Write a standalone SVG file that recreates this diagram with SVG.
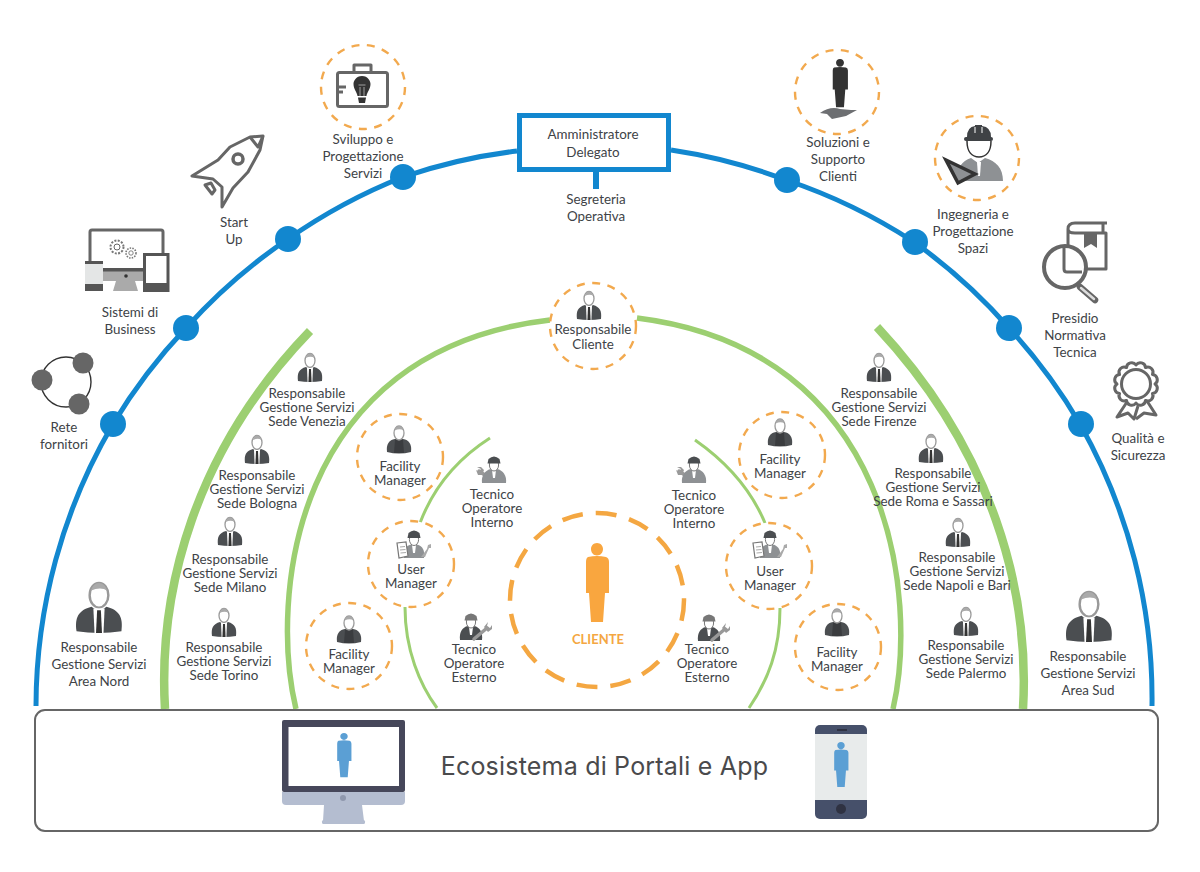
<svg xmlns="http://www.w3.org/2000/svg" width="1200" height="872" viewBox="0 0 1200 872">
<style>
text{font-family:Lato,"Open Sans","Liberation Sans",sans-serif;font-size:13.4px;fill:#404347;text-anchor:middle}
.big{font-size:13.4px}
.blue{fill:none;stroke:#1287cf;stroke-width:5}
.g1{fill:none;stroke:#9ccf71;stroke-width:8.5}
.g2{fill:none;stroke:#9ccf71;stroke-width:5.5}
.g3{fill:none;stroke:#9ccf71;stroke-width:3}
.dot{fill:#1287cf}
.ring{fill:#fff;stroke:#f2a94e;stroke-width:2.4;stroke-dasharray:8 7.5}
.ic{fill:none;stroke:#666;stroke-width:3;stroke-linejoin:round}
.dark{fill:#4b4e51}
.grey{fill:#8e9194}
.mid{fill:#666}
.wr{fill:none;stroke:#999;stroke-width:3.5;stroke-linecap:round}
</style>
<defs>
<path id="person" d="M-9 14 Q0 12 9 14 Q12 15 12 19 L12 50 L8 50 L6 79 L-6 79 L-8 50 L-11 50 L-11 19 Q-11 15 -9 14Z M0 0 C3.6 0 6 2.8 6 6 C6 9.6 3.6 12.5 0 12.5 C-3.6 12.5 -6 9.6 -6 6 C-6 2.8 -3.6 0 0 0Z"/>
<g id="boss">
<path d="M-12 28 C-13 20 -11 16 -4 14 L0 17 L4 14 C11 16 13 20 12 28 Q0 30 -12 28Z" class="dark"/>
<ellipse cx="0" cy="7.5" rx="5" ry="7" fill="#fff" stroke="#999" stroke-width="1.3"/>
<path d="M-4.5 5 Q-3 .5 0 .5 Q3 .5 4.5 5 Q1 2.5 -4.5 5Z" fill="#aaa"/>
<path d="M-3 15 L3 15 L2.4 29 L-2.4 29Z" fill="#fff"/>
<path d="M-1 16 L1 16 L1.6 29 L-1.6 29Z" fill="#333"/>
</g>
<g id="facility">
<path d="M-12 26 C-13 18 -10 14 -4 13 L4 13 C10 14 13 18 12 26 Q0 29 -12 26Z" class="dark"/>
<path d="M-4 14 L4 14 L5 27 L-5 27Z" fill="#3a3c3f"/>
<ellipse cx="0" cy="7" rx="5" ry="7" fill="#fff" stroke="#999" stroke-width="1.3"/>
<path d="M-4.5 4.5 Q-3 .2 0 .2 Q3 .2 4.5 4.5 Q1 2.2 -4.5 4.5Z" fill="#aaa"/>
</g>
<g id="tecInt">
<path class="wr" d="M-15 15 L-2 24"/>
<path d="M-18 14 L-15 16 L-13 13 L-17 11 L-13 11 L-10 14 L-12 19 L-16 19Z" fill="#999"/>
<path d="M-12 27 C-13 20 -9 14 -3 13 L3 13 C9 14 13 20 12 27Z" class="grey"/>
<path d="M-2 14 L2 14 L1 22 L-1 22Z" fill="#fff"/>
<ellipse cx="0" cy="9" rx="4.600" ry="6" fill="#fff" stroke="#777"/>
<path d="M-6.500 7.500 L-5.500 3 Q0 -2 5.500 3 L6.500 7.500Z" class="dark"/>
</g>
<g id="tecEst">
<path d="M-11 27 C-12 20 -9 14 -3 13 L3 13 C9 14 12 20 11 27Z" class="dark"/>
<path d="M-2 14 L2 14 L1 22 L-1 22Z" fill="#fff"/>
<ellipse cx="0" cy="9" rx="4.600" ry="6" fill="#fff" stroke="#777"/>
<path d="M-6.500 7.500 L-5.500 3 Q0 -2 5.500 3 L6.500 7.500Z" fill="#777"/>
<path class="wr" d="M3 26 L16 15"/>
<path d="M13 14 L17 9 L16 13 L19 15 L21 12 L21 16 L17 19 Z" fill="#999"/>
</g>
<g id="userMgr">
<path d="M-10 28 C-11 21 -9 16 -3 14.500 L3 14.500 C9 16 11 21 10 28Z" class="grey"/>
<path d="M-2 15 L2 15 L1 23 L-1 23Z" fill="#fff"/>
<ellipse cx="0" cy="9.500" rx="4.600" ry="6" fill="#fff" stroke="#777"/>
<path d="M-6.500 8 L-5.500 3 Q0 -2 5.500 3 L6.500 8Z" class="dark"/>
<path d="M-17 13 L-8 12 L-6 26 L-15 28Z" fill="#fff" stroke="#777" stroke-width="1.200"/>
<path d="M-14 17 L-9 16.500 M-14 20 L-8.500 19.500 M-13.500 23 L-8 22.500" stroke="#aaa" stroke-width="1.200"/>
<path d="M7 27 L11 27 L15 18 L17 18 L17 14 L14 15 L13 19Z" fill="#aaa"/>
</g>
</defs>

<g id="connectors">
<path class="blue" d="M36 706 A558 558 0 0 1 113 424 A558 558 0 0 1 186 328 A558 558 0 0 1 288 239 A558 558 0 0 1 403 177 A558 558 0 0 1 517 151"/>
<path class="blue" d="M671 150 A558 558 0 0 1 786 180 A558 558 0 0 1 914 242 A558 558 0 0 1 1009 328 A558 558 0 0 1 1080 424 A558 558 0 0 1 1152 706"/>
<path class="g1" d="M165 709 C158 590 195 450 310 331"/>
<path class="g1" d="M1023 709 C1030 590 992 450 877 327"/>
<path class="g2" d="M296 709 C270 600 290 350 550 320"/>
<path class="g2" d="M637 318 C895 350 918 600 893 709"/>
<path class="g3" d="M490 438 Q440 470 420 523"/>
<path class="g3" d="M405 607 C405 650 420 685 437 708"/>
<path class="g3" d="M695 440 Q745 475 765 523"/>
<path class="g3" d="M780 608 C780 650 768 680 749 708"/>
<path d="M596 172 V189" stroke="#1287cf" stroke-width="6" fill="none"/>
</g>

<g id="dots">
<circle class="dot" cx="113" cy="424" r="13"/><circle class="dot" cx="186" cy="328" r="13"/><circle class="dot" cx="288" cy="239" r="13"/><circle class="dot" cx="403" cy="177" r="13"/>
<circle class="dot" cx="787" cy="180" r="13"/><circle class="dot" cx="915" cy="242" r="13"/><circle class="dot" cx="1009" cy="328" r="13"/><circle class="dot" cx="1081" cy="424" r="13"/>
</g>

<g id="ad">
<rect x="519.500" y="115.500" width="149" height="54" fill="#fff" stroke="#1287cf" stroke-width="5"/>
<text x="593" y="139">Amministratore</text><text x="593" y="157">Delegato</text>
</g>
<g id="segreteria"><text x="596" y="204">Segreteria</text><text x="596" y="221">Operativa</text></g>

<g id="rete">
<circle cx="66" cy="382" r="25" fill="none" stroke="#333" stroke-width="1.400"/>
<circle class="mid" cx="83" cy="363" r="10.500"/><circle class="mid" cx="42" cy="380" r="10.500"/><circle class="mid" cx="79" cy="404" r="10.500"/>
<text x="64" y="432">Rete</text><text x="64" y="449">fornitori</text>
</g>

<g id="sistemi">
<path d="M90 270 V232 Q90 230 92 230 H161 Q163 230 163 232 V262" class="ic" stroke="#555"/>
<circle cx="117" cy="247" r="6.500" fill="none" stroke="#777" stroke-width="2" stroke-dasharray="2 1.400"/>
<circle cx="117" cy="247" r="3" fill="none" stroke="#666"/>
<circle cx="131" cy="253" r="5" fill="none" stroke="#777" stroke-width="1.600" stroke-dasharray="1.500 1.200"/>
<circle cx="131" cy="253" r="2.200" fill="none" stroke="#666" stroke-width=".8"/>
<rect x="102" y="268" width="42" height="13" fill="#aaa"/><rect x="102" y="268" width="42" height="3.500" fill="#555"/>
<path d="M116 281 H135 L138 291 H113Z" fill="#aaa"/>
<circle cx="126" cy="276" r="1.800" fill="#333"/>
<rect x="85" y="261" width="18" height="30" rx="1.500" fill="#e4e6e6"/><rect x="85" y="261" width="18" height="3" fill="#555"/><rect x="85" y="284" width="18" height="7" fill="#555"/>
<rect x="144.500" y="254.500" width="23.500" height="36" fill="#fff" stroke="#555" stroke-width="3"/><rect x="144" y="283" width="25" height="8" fill="#555"/>
<text x="130" y="317">Sistemi di</text><text x="130" y="334">Business</text>
</g>

<g id="startup">
<path class="ic" d="M263 136 L250 137 L230 147 L218 160 L192 176 L213 179 L222 187 L222 207 L233 188 L248 172 L260 150Z"/>
<path class="ic" d="M250 137 L258 147 L263 136"/>
<circle cx="238" cy="159" r="5" fill="none" stroke="#666" stroke-width="3.500"/>
<path class="ic" stroke-width="2.500" d="M205 185 L211 183 L215 190 L212 194Z"/>
<text x="234" y="227">Start</text><text x="234" y="244">Up</text>
</g>

<g id="sviluppo">
<circle class="ring" cx="363" cy="87" r="42"/>
<rect x="337.500" y="72.500" width="50" height="34" rx="2" class="ic"/>
<path class="ic" d="M354 72 V65 H371 V72"/>
<path d="M337 87 H346 M337 92 H343" class="ic" stroke-width="2.500"/>
<path d="M362 76 C368 76 370.500 81 370.500 84 C370.500 89 367 92 366.500 96 H357.500 C357 92 353.500 89 353.500 84 C353.500 81 356 76 362 76Z" fill="#333"/>
<path d="M358 97.500 H366 L365 103 H359Z" fill="#333"/>
<path d="M360 87 V96 M364 87 V96 M358.500 85 H365.500" stroke="#bbb" stroke-width=".8" fill="none"/>
<text x="363" y="144">Sviluppo e</text><text x="363" y="161">Progettazione</text><text x="363" y="178">Servizi</text>
</g>

<g id="soluzioni">
<circle class="ring" cx="837" cy="92" r="42"/>
<use href="#person" transform="translate(840 59) scale(.66 .61)" fill="#333"/>
<path d="M820 113 Q830 106 840 109 L851 110 L857 110 L846 116 L832 119 L827 114Z" fill="#6d6f72"/>
<text x="838" y="147">Soluzioni e</text><text x="838" y="164">Supporto</text><text x="838" y="181">Clienti</text>
</g>

<g id="ingegneria">
<circle class="ring" cx="977" cy="158" r="42"/>
<path d="M958 181 C956 168 962 161 971 158 L978 163 L985 158 C996 161 1003 168 1003 181Z" class="grey"/>
<path d="M967 141 C967 152 972 157 979 157 C986 157 991 152 991 141" fill="#fff" stroke="#333" stroke-width="1.500"/>
<path d="M967 137 Q967 127 975 126 L975 125 H982 L982 126 Q991 127 991 137Z" fill="#3f4245"/>
<rect x="964" y="137" width="29" height="4" rx="2" fill="#3f4245"/>
<path d="M975 127 V133 M982 127 V133" stroke="#fff" stroke-width="1"/>
<path d="M977 162 L981 162 L980 176 L978 176Z" fill="#fff"/>
<path d="M946 160 L975 174 L958 183Z" fill="#8e9194" stroke="#333" stroke-width="3.500" stroke-linejoin="miter"/>
<text x="973" y="219">Ingegneria e</text><text x="973" y="236">Progettazione</text><text x="973" y="253">Spazi</text>
</g>

<g id="presidio">
<path class="ic" d="M1107 223 H1075 Q1068 223 1068 229 Q1068 233 1075 233 H1106 V269 H1085 M1068 229 V247 M1103 223 V233"/>
<path d="M1084 234 H1097 V248 L1091 244 L1084 248Z" class="mid"/>
<circle cx="1065" cy="267" r="21" fill="#fff" stroke="#666" stroke-width="4"/>
<path class="ic" d="M1064 247 V269 Q1064 272 1067 272 H1082"/>
<path d="M1080 287 L1095 300" stroke="#666" stroke-width="6.500" fill="none" stroke-linecap="round"/>
<path d="M1081 288 L1094 299" stroke="#ddd" stroke-width="2.500" fill="none" stroke-linecap="round"/>
<text x="1075" y="323">Presidio</text><text x="1075" y="340">Normativa</text><text x="1075" y="357">Tecnica</text>
</g>

<g id="qualita">
<path transform="translate(1136 384)" class="ic" stroke-width="2.500" d="M19 0 A5.200 5.200 0 0 1 16.450 9.500 A5.200 5.200 0 0 1 9.500 16.450 A5.200 5.200 0 0 1 0 19 A5.200 5.200 0 0 1 -9.500 16.450 A5.200 5.200 0 0 1 -16.450 9.500 A5.200 5.200 0 0 1 -19 0 A5.200 5.200 0 0 1 -16.450 -9.500 A5.200 5.200 0 0 1 -9.500 -16.450 A5.200 5.200 0 0 1 0 -19 A5.200 5.200 0 0 1 9.500 -16.450 A5.200 5.200 0 0 1 16.450 -9.500 A5.200 5.200 0 0 1 19 0Z"/>
<circle cx="1136" cy="384" r="14.500" fill="none" stroke="#666" stroke-width="3"/>
<path class="ic" stroke-width="2.500" d="M1127 402 L1117 417 L1128 413 L1134 419 L1138 406 M1147 401 L1156 415 L1144 413 L1136 419"/>
<text x="1138" y="443">Qualità e</text><text x="1138" y="460">Sicurezza</text>
</g>

<g id="resp-cliente">
<circle class="ring" cx="593" cy="326" r="43"/>
<use href="#boss" x="589" y="291"/>
<text x="593" y="334">Responsabile</text><text x="593" y="349">Cliente</text>
</g>

<g id="area-nord">
<use href="#boss" transform="translate(99 582) scale(1.870 1.760)"/>
<text class="big" x="99" y="652">Responsabile</text><text class="big" x="99" y="669">Gestione Servizi</text><text class="big" x="99" y="686">Area Nord</text>
</g>
<g id="area-sud">
<use href="#boss" transform="translate(1089 591) scale(1.870 1.760)"/>
<text class="big" x="1088" y="661">Responsabile</text><text class="big" x="1088" y="678">Gestione Servizi</text><text class="big" x="1088" y="695">Area Sud</text>
</g>

<g id="venezia"><use href="#boss" x="310" y="353"/><text x="307" y="398">Responsabile</text><text x="307" y="412">Gestione Servizi</text><text x="307" y="426">Sede Venezia</text></g>
<g id="bologna"><use href="#boss" x="257" y="435"/><text x="257" y="480">Responsabile</text><text x="257" y="494">Gestione Servizi</text><text x="257" y="508">Sede Bologna</text></g>
<g id="milano"><use href="#boss" x="230" y="517"/><text x="230" y="564">Responsabile</text><text x="230" y="578">Gestione Servizi</text><text x="230" y="592">Sede Milano</text></g>
<g id="torino"><use href="#boss" x="224" y="608"/><text x="224" y="652">Responsabile</text><text x="224" y="666">Gestione Servizi</text><text x="224" y="680">Sede Torino</text></g>
<g id="firenze"><use href="#boss" x="879" y="353"/><text x="879" y="398">Responsabile</text><text x="879" y="412">Gestione Servizi</text><text x="879" y="426">Sede Firenze</text></g>
<g id="roma"><use href="#boss" x="931" y="434"/><text x="933" y="478">Responsabile</text><text x="933" y="492">Gestione Servizi</text><text x="933" y="506">Sede Roma e Sassari</text></g>
<g id="napoli"><use href="#boss" x="958" y="518"/><text x="957" y="562">Responsabile</text><text x="957" y="576">Gestione Servizi</text><text x="957" y="590">Sede Napoli e Bari</text></g>
<g id="palermo"><use href="#boss" x="966" y="607"/><text x="966" y="650">Responsabile</text><text x="966" y="664">Gestione Servizi</text><text x="966" y="678">Sede Palermo</text></g>

<g id="fm1"><circle class="ring" cx="400" cy="457" r="43"/><use href="#facility" x="399" y="426"/><text x="400" y="471">Facility</text><text x="400" y="485">Manager</text></g>
<g id="fm2"><circle class="ring" cx="349" cy="646" r="43"/><use href="#facility" x="349" y="616"/><text x="349" y="659">Facility</text><text x="349" y="673">Manager</text></g>
<g id="fm3"><circle class="ring" cx="782" cy="455" r="43"/><use href="#facility" x="780" y="419"/><text x="780" y="464">Facility</text><text x="780" y="478">Manager</text></g>
<g id="fm4"><circle class="ring" cx="838" cy="647" r="43"/><use href="#facility" x="837" y="609"/><text x="837" y="657">Facility</text><text x="837" y="671">Manager</text></g>

<g id="um1"><circle class="ring" cx="411" cy="564" r="43"/><use href="#userMgr" x="414" y="530"/><text x="411" y="574">User</text><text x="411" y="588">Manager</text></g>
<g id="um2"><circle class="ring" cx="769" cy="566" r="43"/><use href="#userMgr" x="770" y="530"/><text x="770" y="576">User</text><text x="770" y="590">Manager</text></g>

<g id="ti1"><use href="#tecInt" x="494" y="456"/><text x="492" y="499">Tecnico</text><text x="492" y="513">Operatore</text><text x="492" y="527">Interno</text></g>
<g id="ti2"><use href="#tecInt" x="694" y="456"/><text x="694" y="500">Tecnico</text><text x="694" y="514">Operatore</text><text x="694" y="528">Interno</text></g>
<g id="te1"><use href="#tecEst" x="471" y="613"/><text x="474" y="654">Tecnico</text><text x="474" y="668">Operatore</text><text x="474" y="682">Esterno</text></g>
<g id="te2"><use href="#tecEst" x="709" y="614"/><text x="707" y="654">Tecnico</text><text x="707" y="668">Operatore</text><text x="707" y="682">Esterno</text></g>

<g id="cliente">
<circle cx="597" cy="600" r="87" fill="none" stroke="#f4a742" stroke-width="4.500" stroke-dasharray="21 13"/>
<use href="#person" x="597" y="543" fill="#f9a63f"/>
<text x="598" y="644" style="font-size:13px;font-weight:700;fill:#f4a742">CLIENTE</text>
</g>

<g id="ecosistema">
<rect x="35" y="710" width="1123" height="121" rx="10" fill="#fff" stroke="#666" stroke-width="2"/>
<text x="604.500" y="775" style="font-family:Inter,'Noto Sans',sans-serif;font-size:25px;letter-spacing:.2px;fill:#4a4a4c">Ecosistema di Portali e App</text>
</g>
<g id="desktop">
<path d="M282 792 H405 V801 Q405 805 401 805 H286 Q282 805 282 801Z" fill="#b4bdd0"/>
<path d="M324 805 H362 L364 821 H323Z" fill="#b4bdd0"/><rect x="322" y="820" width="43" height="4" rx="1.500" fill="#b4bdd0"/>
<rect x="282" y="720" width="123" height="72" rx="2" fill="#46475a"/>
<rect x="288.500" y="727" width="110.500" height="59" fill="#fff"/>
<circle cx="343" cy="798" r="3" fill="#8f98ad"/>
<use href="#person" transform="translate(344 733) scale(.62 .56)" fill="#5b9fd4"/>
</g>
<g id="phone">
<rect x="815" y="725" width="52" height="94" rx="5" fill="#46506a"/>
<rect x="815" y="734" width="52" height="66" fill="#e8ebeb"/>
<rect x="837" y="729" width="10" height="2" fill="#2f3242"/>
<circle cx="841" cy="809" r="5" fill="#2f3242"/>
<use href="#person" transform="translate(841 742) scale(.62 .57)" fill="#5b9fd4"/>
</g>
</svg>
